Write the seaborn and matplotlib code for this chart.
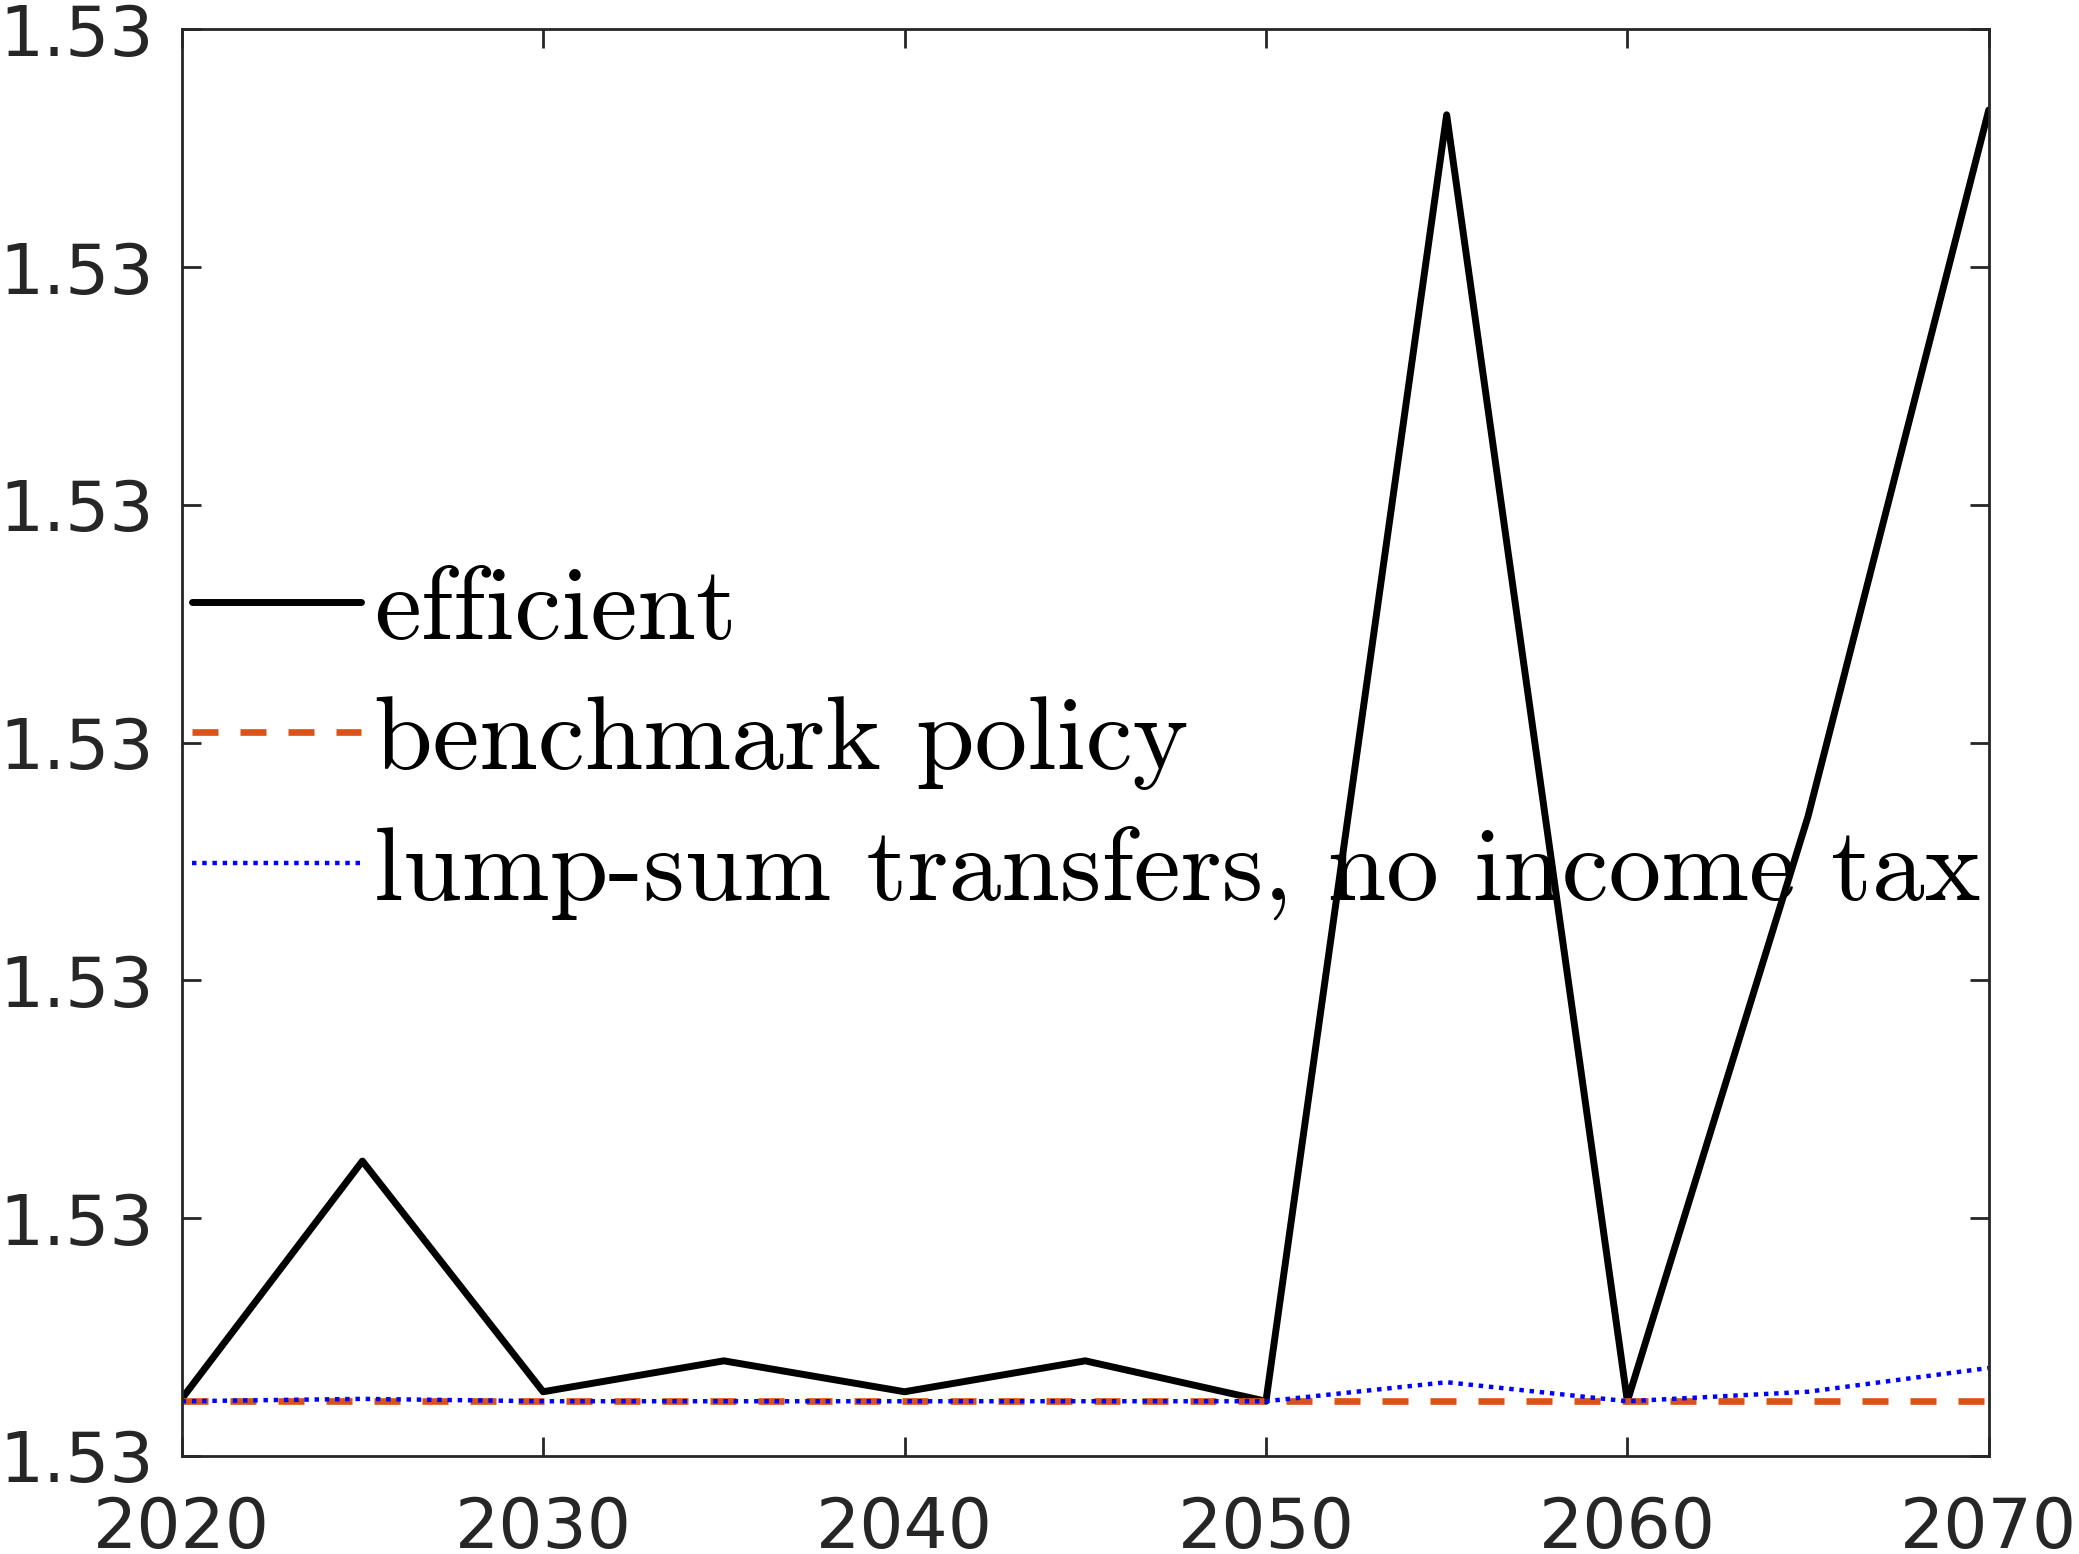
import matplotlib
matplotlib.use("Agg")
import matplotlib.pyplot as plt
import seaborn as sns
import numpy as np
import pandas as pd
from matplotlib.ticker import FormatStrFormatter

years = [2020, 2025, 2030, 2035, 2040, 2045, 2050, 2055, 2060, 2065, 2070]
efficient = [1.530024, 1.530124, 1.530027, 1.530040, 1.530027, 1.530040,
             1.530023, 1.530564, 1.530023, 1.530269, 1.530566]
benchmark = [1.530023] * 11
lumpsum = [1.530023, 1.530024, 1.530023, 1.530023, 1.530023, 1.530023,
           1.530023, 1.530031, 1.530023, 1.530027, 1.530037]
labels = ["efficient", "benchmark policy", "lump-sum transfers, no income tax"]
yticks = [1.5300, 1.5301, 1.5302, 1.5303, 1.5304, 1.5305, 1.5306]
xticks = [2020, 2030, 2040, 2050, 2060, 2070]

sns.set_style("ticks")
plt.rcParams['font.family'] = ['DejaVu Sans']

fig = plt.figure(figsize=(10.395, 7.77), dpi=200)
ax = fig.add_axes([0.0874, 0.0631, 0.8692, 0.9181])

df = pd.DataFrame({"year": years, "eff": efficient, "bench": benchmark, "lump": lumpsum})
sns.lineplot(data=df, x="year", y="eff", ax=ax, color="black", lw=2.5, label=labels[0])
sns.lineplot(data=df, x="year", y="bench", ax=ax, color="#D95319", lw=2.4,
             linestyle=(0, (3.9, 3.3)), label=labels[1])
sns.lineplot(data=df, x="year", y="lump", ax=ax, color="#0000FF", lw=1.6,
             linestyle=(0, (1, 1.3)), label=labels[2])

ax.set_xlim(2020, 2070)
ax.set_ylim(1.5300, 1.5306)
ax.set_xticks(xticks)
ax.set_yticks(yticks)
ax.yaxis.set_major_formatter(FormatStrFormatter('%.2f'))
ax.set_xlabel("")
ax.set_ylabel("")

for s in ax.spines.values():
    s.set_visible(True)
    s.set_color("#262626")
    s.set_linewidth(1.0)
ax.tick_params(axis='both', direction='in', length=7, width=1.0, color="#262626",
               labelcolor="#262626", labelsize=25, top=True, right=True)
ax.tick_params(axis='y', pad=10)
ax.tick_params(axis='x', pad=14)

leg = ax.legend(loc='center left', bbox_to_anchor=(0.0, 0.5), frameon=False,
                prop={'family': 'cmr10', 'size': 38}, handlelength=1.6,
                handletextpad=0.12, borderaxespad=0.0, borderpad=0.1,
                labelspacing=0.34, labelcolor="black")

fig.savefig("out.png", dpi=200)
